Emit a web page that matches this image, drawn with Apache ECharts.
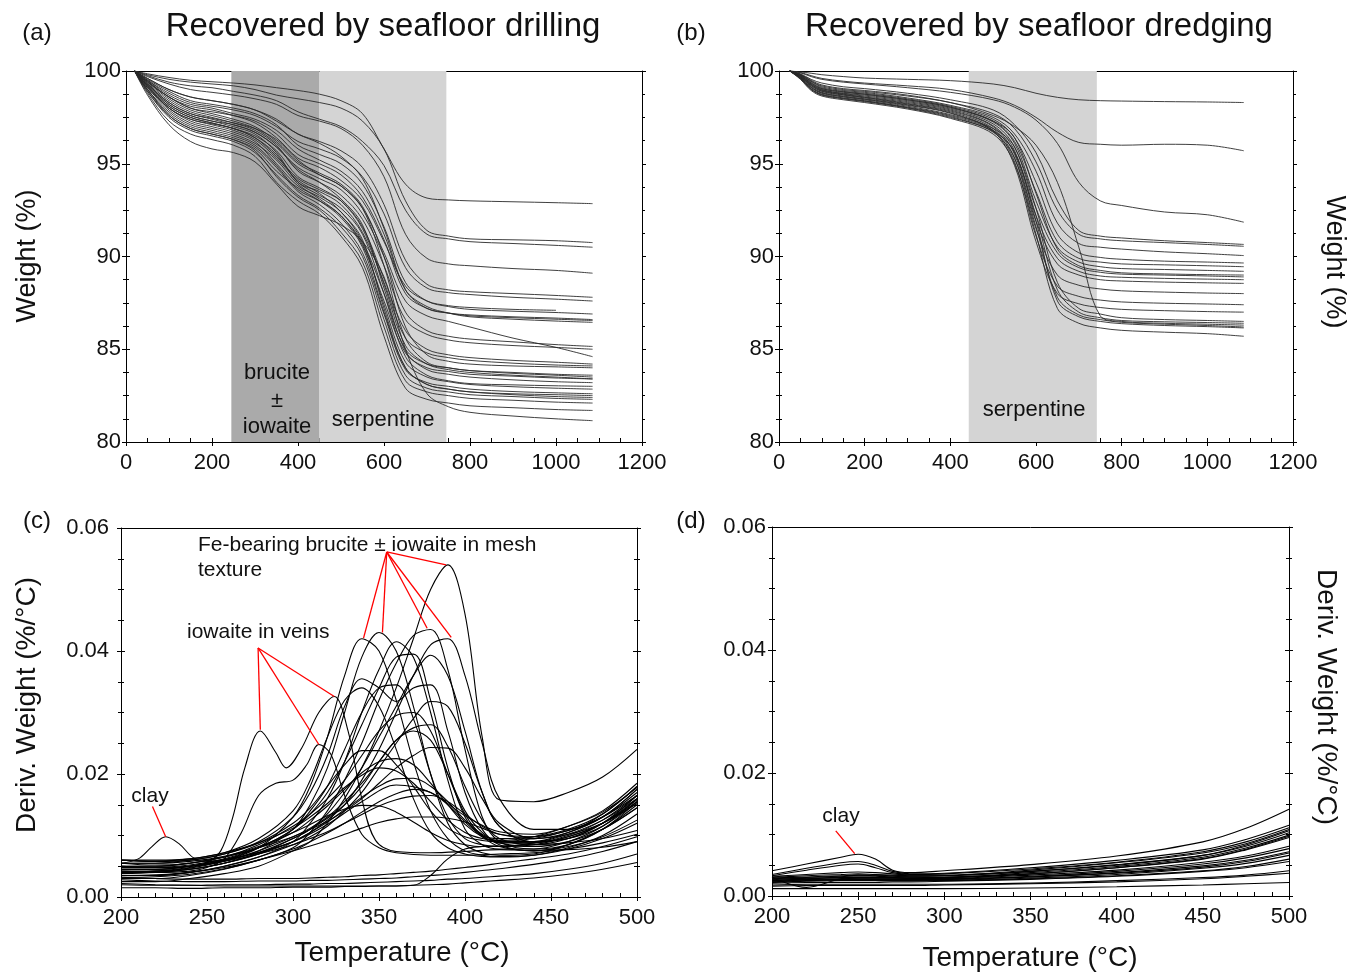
<!DOCTYPE html>
<html><head><meta charset="utf-8">
<script src="https://cdn.jsdelivr.net/npm/echarts@6/dist/echarts.min.js"></script>
<style>html,body{margin:0;padding:0;background:#fff}#chart{width:1357px;height:973px}</style>
</head><body><div id="chart"></div>
<script>
const FONT = '"Liberation Sans", Arial, sans-serif';

// ---------- (a) TGA, drilled samples ----------
const drillTemp = [20,50,100,150,200,250,300,350,400,450,500,550,600,650,700,750,800,900,1000,1085];
const drillWeight = [
 [100,99.85,99.65,99.5,99.42,99.35,99.25,99.1,98.95,98.75,98.4,97.7,95.8,93.9,93.15,93.05,93.0,92.95,92.9,92.85],
 [100,99.8,99.55,99.4,99.3,99.2,99.0,98.7,98.5,98.3,98.0,97.3,95.8,93.0,91.4,91.1,90.95,90.9,90.85,90.75],
 [100,99.75,99.4,99.2,99.1,98.9,98.7,98.4,97.8,97.4,97.0,96.2,94.9,92.5,91.2,90.95,90.8,90.7,90.6,90.5],
 [100,99.7,99.3,99.0,98.85,98.7,98.5,98.2,97.6,97.3,96.9,96.0,94.3,91.2,89.9,89.6,89.5,89.35,89.25,89.1],
 [100,99.6,99.0,98.6,98.4,98.2,97.9,97.4,96.6,96.2,95.7,94.8,92.8,89.8,88.5,88.2,88.1,88.0,87.9,87.8],
 [100,99.5,98.8,98.3,98.1,97.9,97.6,97.0,96.2,95.8,95.3,94.3,92.3,89.4,88.3,88.05,87.95,87.8,87.7,87.6],
 [100,99.55,98.9,98.4,98.2,98.0,97.7,97.1,96.0,95.5,95.0,93.9,91.6,88.6,87.6,87.3,87.15,87.05,86.98,86.9],
 [100,99.4,98.6,98.0,97.8,97.6,97.3,96.6,95.5,95.0,94.4,93.2,90.9,88.0,87.2,86.95,86.8,86.7,86.62,86.55],
 [100,99.5,98.7,98.2,98.0,97.7,97.4,96.8,95.8,95.2,94.6,93.5,91.2,88.2,87.3,86.95,86.75,86.62,86.52,86.45],
 [100,99.45,98.6,98.1,97.9,97.6,97.2,96.4,95.3,94.8,94.1,93.0,90.8,88.4,87.6,87.35,87.25,87.15,87.1,null],
 [100,99.4,98.5,97.9,97.6,97.3,96.9,96.1,95.0,94.4,93.8,92.6,90.2,87.6,86.8,86.5,86.2,85.6,85.1,84.6],
 [100,99.3,98.3,97.7,97.4,97.1,96.7,95.9,94.8,94.2,93.6,92.3,90.0,87.0,86.0,85.7,85.55,85.4,85.25,85.15],
 [100,99.35,98.4,97.8,97.5,97.2,96.8,96.0,94.6,94.0,93.3,92.0,89.5,86.6,85.8,85.5,85.35,85.2,85.1,85.0],
 [100,99.2,98.1,97.5,97.2,96.9,96.4,95.4,94.2,93.6,93.0,91.6,88.8,86.0,85.0,84.7,84.55,84.4,84.3,84.2],
 [100,99.3,98.2,97.6,97.3,97.0,96.6,95.6,94.0,93.5,92.8,91.3,88.6,85.6,84.8,84.55,84.4,84.25,84.15,84.1],
 [100,99.1,98.0,97.3,97.0,96.7,96.2,95.0,93.8,93.2,92.4,90.8,88.0,85.0,84.2,84.0,83.85,83.7,83.6,83.5],
 [100,99.2,98.1,97.5,97.2,96.9,96.5,95.7,94.3,93.7,93.0,91.5,88.5,85.2,84.2,83.9,83.75,83.6,83.5,83.4],
 [100,99.0,97.8,97.1,96.8,96.5,96.0,94.9,93.6,93.0,92.2,90.6,87.6,84.8,84.0,83.8,83.65,83.55,83.45,83.4],
 [100,99.25,98.2,97.6,97.3,97.1,96.7,95.9,94.7,94.0,93.1,91.7,88.3,84.9,83.9,83.65,83.5,83.35,83.25,83.2],
 [100,99.1,97.9,97.2,96.9,96.6,96.1,95.2,93.9,93.1,92.2,90.7,87.4,84.3,83.5,83.25,83.1,82.98,82.9,82.85],
 [100,99.0,97.7,97.0,96.7,96.4,95.9,94.8,93.5,92.8,91.8,90.2,86.9,83.9,83.2,83.0,82.85,82.72,82.65,82.6],
 [100,99.15,98.0,97.4,97.1,96.8,96.3,95.3,94.1,93.4,92.4,90.9,87.2,84.0,83.1,82.85,82.7,82.55,82.45,82.4],
 [100,98.9,97.5,96.8,96.5,96.2,95.6,94.4,93.3,92.6,91.6,90.0,86.6,83.6,82.9,82.7,82.55,82.45,82.35,82.3],
 [100,98.9,97.6,96.9,96.6,96.3,95.7,94.3,93.2,92.5,91.3,89.7,86.2,83.3,82.7,82.5,82.35,82.25,82.15,82.1],
 [100,98.8,97.3,96.6,96.3,96.0,95.4,94.0,93.0,92.3,91.1,89.4,85.7,82.9,82.3,82.1,81.95,81.85,81.75,81.7],
 [100,98.7,97.1,96.2,95.8,95.6,95.1,93.9,92.7,92.2,91.7,90.8,88.9,85.0,82.6,81.9,81.6,81.4,81.25,81.15],
 [100,99.3,98.3,97.7,97.45,97.2,96.9,96.3,95.2,94.4,93.8,92.6,89.5,85.6,84.3,84.0,83.85,83.75,83.65,83.6],
 [100,99.45,98.6,98.0,97.7,97.4,97.0,96.2,95.1,94.5,93.9,92.7,90.0,86.2,84.7,84.35,84.2,84.1,84.05,84.0],
 [100,99.0,97.6,96.9,96.6,96.3,95.8,94.6,93.7,93.0,92.1,90.5,87.0,84.0,83.1,82.85,82.7,82.6,82.55,82.5],
 [100,99.2,98.0,97.4,97.15,96.9,96.4,95.5,94.0,93.3,92.6,91.2,88.0,84.6,83.6,83.3,83.15,83.08,83.03,83.0],
 [100,99.6,99.0,98.6,98.4,98.2,97.9,97.3,96.6,96.1,95.4,94.2,91.5,88.2,87.2,86.95,86.85,86.75,86.68,86.6]
];

// ---------- (b) TGA, dredged samples ----------
const dredgeTemp = [25,50,75,100,150,200,300,400,500,550,600,650,700,750,800,900,1000,1085];
const dredgeWeight = [
 [100,99.95,99.88,99.8,99.7,99.62,99.55,99.48,99.3,99.1,98.8,98.58,98.45,98.4,98.38,98.35,98.33,98.3],
 [100,99.92,99.75,99.6,99.45,99.35,99.2,99.0,98.55,98.15,97.5,96.7,96.15,96.05,96.0,96.05,96.0,95.7],
 [100,99.9,99.7,99.55,99.4,99.3,99.1,98.85,98.45,98.05,97.35,96.1,94.0,93.0,92.75,92.4,92.25,91.85],
 [100,99.85,99.55,99.35,99.15,99.05,98.8,98.45,97.9,97.1,95.6,93.0,91.4,91.1,91.0,90.85,90.75,90.65],
 [100,99.82,99.5,99.25,99.05,98.95,98.7,98.3,97.7,96.9,95.1,92.5,91.2,90.95,90.85,90.75,90.65,90.55],
 [100,99.8,99.45,99.15,98.95,98.85,98.55,98.15,97.5,96.6,94.6,91.8,90.7,90.5,90.4,90.25,90.15,90.05],
 [100,99.78,99.4,99.1,98.9,98.8,98.5,98.1,97.4,96.4,94.0,91.2,90.2,89.95,89.85,89.75,89.7,89.65],
 [100,99.75,99.35,99.05,98.85,98.75,98.45,98.05,97.3,96.2,93.5,90.8,89.9,89.7,89.6,89.55,89.5,89.45],
 [100,99.75,99.3,99.0,98.8,98.7,98.4,98.0,97.25,96.1,93.0,90.5,89.7,89.45,89.35,89.3,89.25,89.2],
 [100,99.72,99.28,98.98,98.78,98.65,98.35,97.95,97.15,95.9,92.6,90.2,89.4,89.15,89.05,89.0,88.95,88.9],
 [100,99.7,99.25,98.95,98.75,98.6,98.3,97.9,97.05,95.7,92.2,89.9,89.2,88.95,88.88,88.82,88.78,88.75],
 [100,99.7,99.22,98.92,98.72,98.58,98.25,97.85,97.0,95.5,91.9,89.6,89.0,88.75,88.68,88.62,88.58,88.55],
 [100,99.68,99.2,98.9,98.7,98.55,98.22,97.8,96.9,95.3,91.5,89.0,88.45,88.25,88.15,88.08,88.03,88.0],
 [100,99.65,99.15,98.85,98.65,98.5,98.18,97.75,96.8,95.1,91.1,88.4,87.85,87.65,87.55,87.48,87.44,87.4],
 [100,99.65,99.12,98.82,98.62,98.48,98.15,97.72,96.75,94.9,90.8,88.0,87.45,87.25,87.15,87.08,87.03,87.0],
 [100,99.62,99.1,98.8,98.6,98.45,98.1,97.65,96.9,95.9,92.6,88.6,87.2,86.9,86.7,86.6,86.55,86.5],
 [100,99.6,99.05,98.75,98.55,98.4,98.05,97.6,96.8,95.6,92.2,88.2,87.0,86.7,86.55,86.48,86.44,86.4],
 [100,99.6,99.02,98.72,98.52,98.38,98.02,97.55,96.7,95.3,91.6,87.8,86.85,86.6,86.45,86.35,86.28,86.2],
 [100,99.58,99.0,98.7,98.5,98.35,98.0,97.5,96.75,95.6,91.9,87.6,86.75,86.5,86.38,86.28,86.22,86.15],
 [100,99.55,98.95,98.65,98.45,98.3,97.95,97.45,96.6,95.0,91.2,87.2,86.4,86.15,86.02,85.92,85.84,85.7],
 [100,99.8,99.45,99.2,99.0,98.9,98.65,98.3,97.6,97.0,96.0,94.0,90.5,86.8,86.5,86.4,86.35,86.3],
 [100,99.76,99.35,99.05,98.88,98.75,98.45,98.05,97.3,96.4,93.4,90.4,89.5,89.25,89.12,89.06,89.02,89.0]
];

// ---------- (c) DTG, drilled samples ----------
const drillDerivTemp = [200,220,240,260,280,300,310,320,330,340,350,360,370,380,390,400,410,420,440,460,480,500];
const drillDeriv = [
 [0.005,0.0048,0.005,0.006,0.008,0.013,0.018,0.026,0.036,0.042,0.040,0.032,0.022,0.014,0.0095,0.0075,0.0068,0.0066,0.0068,0.0078,0.0095,0.012],
 [0.004,0.0042,0.0048,0.0058,0.0075,0.011,0.015,0.021,0.030,0.039,0.043,0.040,0.031,0.020,0.012,0.0085,0.0072,0.0068,0.007,0.0085,0.011,0.0145],
 [0.0035,0.0036,0.004,0.005,0.0065,0.009,0.012,0.016,0.022,0.030,0.037,0.0415,0.039,0.030,0.019,0.011,0.0085,0.0078,0.0078,0.009,0.0115,0.016],
 [0.003,0.003,0.0035,0.0045,0.006,0.008,0.0105,0.014,0.019,0.025,0.032,0.038,0.0425,0.0435,0.037,0.024,0.013,0.009,0.0078,0.0085,0.011,0.0155],
 [0.0025,0.0025,0.003,0.0038,0.005,0.0075,0.009,0.012,0.016,0.021,0.027,0.034,0.042,0.050,0.054,0.046,0.026,0.0158,0.0155,0.017,0.0195,0.024],
 [0.0045,0.0045,0.005,0.006,0.0072,0.009,0.0105,0.0125,0.015,0.019,0.024,0.030,0.036,0.041,0.042,0.036,0.025,0.016,0.011,0.011,0.0135,0.018],
 [0.0055,0.0052,0.0055,0.0065,0.008,0.011,0.0135,0.017,0.022,0.028,0.034,0.039,0.0395,0.032,0.021,0.013,0.010,0.0095,0.0098,0.011,0.0135,0.018],
 [0.004,0.0042,0.0045,0.0055,0.007,0.0095,0.011,0.0135,0.017,0.021,0.026,0.031,0.036,0.0393,0.036,0.027,0.017,0.0115,0.009,0.0095,0.012,0.0165],
 [0.006,0.0058,0.006,0.007,0.009,0.013,0.017,0.023,0.031,0.0355,0.034,0.0318,0.034,0.0345,0.027,0.017,0.011,0.0085,0.0075,0.0085,0.011,0.015],
 [0.0045,0.0045,0.005,0.006,0.008,0.011,0.014,0.018,0.024,0.030,0.034,0.0345,0.029,0.020,0.013,0.0095,0.0085,0.0082,0.0085,0.0098,0.012,0.0155],
 [0.006,0.0058,0.0062,0.0072,0.0095,0.014,0.019,0.026,0.032,0.034,0.031,0.024,0.016,0.0105,0.008,0.007,0.0066,0.0065,0.0068,0.008,0.010,0.0135],
 [0.0035,0.0035,0.004,0.005,0.0065,0.0085,0.0098,0.0115,0.014,0.017,0.021,0.025,0.029,0.0318,0.031,0.025,0.017,0.0115,0.009,0.0095,0.0115,0.0155],
 [0.005,0.005,0.0055,0.0065,0.0085,0.0115,0.0135,0.016,0.019,0.023,0.027,0.0295,0.030,0.027,0.020,0.0135,0.010,0.009,0.009,0.0105,0.013,0.0175],
 [0.0042,0.0042,0.0047,0.0058,0.0075,0.0098,0.0112,0.013,0.0155,0.0185,0.022,0.0255,0.0275,0.028,0.0245,0.018,0.0125,0.0095,0.0085,0.0095,0.012,0.016],
 [0.0038,0.004,0.0045,0.0055,0.0072,0.0095,0.011,0.0128,0.015,0.018,0.022,0.0255,0.027,0.0255,0.020,0.014,0.0105,0.0088,0.0082,0.009,0.011,0.0145],
 [0.005,0.005,0.0055,0.0065,0.008,0.0098,0.011,0.0123,0.014,0.016,0.0185,0.021,0.023,0.0243,0.0242,0.021,0.016,0.012,0.0095,0.0105,0.013,0.0175],
 [0.0055,0.0055,0.006,0.007,0.0088,0.012,0.0145,0.018,0.0215,0.0238,0.0238,0.0215,0.018,0.014,0.0112,0.0098,0.0092,0.009,0.0095,0.0108,0.013,0.0165],
 [0.0048,0.0048,0.0052,0.0062,0.008,0.0105,0.0125,0.0148,0.0175,0.0202,0.022,0.0225,0.0215,0.0185,0.015,0.0118,0.0098,0.0088,0.0088,0.01,0.0125,0.0165],
 [0.006,0.006,0.0062,0.0072,0.0088,0.0112,0.013,0.0152,0.0178,0.0198,0.021,0.0205,0.0185,0.0155,0.0125,0.0105,0.0095,0.0092,0.0098,0.0115,0.014,0.0185],
 [0.004,0.004,0.0045,0.0055,0.007,0.009,0.0105,0.0122,0.0142,0.0162,0.018,0.0192,0.0193,0.018,0.0155,0.0125,0.0102,0.009,0.0088,0.0098,0.012,0.0158],
 [0.0032,0.0033,0.0037,0.0046,0.006,0.0078,0.009,0.0104,0.012,0.0138,0.0155,0.0168,0.0175,0.017,0.015,0.0122,0.0098,0.0082,0.0075,0.0082,0.0098,0.0125],
 [0.0045,0.0045,0.005,0.0058,0.007,0.0085,0.0095,0.0106,0.012,0.0134,0.0148,0.0158,0.0164,0.0165,0.0155,0.0135,0.0115,0.0102,0.0098,0.0108,0.013,0.017],
 [0.0055,0.0055,0.0058,0.0066,0.0082,0.0105,0.0118,0.0132,0.0143,0.0149,0.0148,0.0138,0.0122,0.0105,0.0092,0.0085,0.0082,0.0082,0.0088,0.0102,0.0125,0.016],
 [0.0035,0.0035,0.004,0.0048,0.006,0.0075,0.0083,0.0092,0.0102,0.0112,0.0121,0.0127,0.013,0.013,0.0128,0.0122,0.0112,0.0102,0.0095,0.0102,0.012,0.0152],
 [0.002,0.0019,0.0019,0.002,0.002,0.0021,0.0021,0.0022,0.0022,0.0023,0.0024,0.0025,0.0026,0.0027,0.0029,0.003,0.0032,0.0034,0.0038,0.0045,0.0055,0.007],
 [0.0015,0.0015,0.0014,0.0015,0.0015,0.0016,0.0016,0.0016,0.0017,0.0017,0.0018,0.0018,0.0019,0.002,0.0021,0.0023,0.0025,0.0027,0.0031,0.0037,0.0045,0.0056],
 [0.0028,0.0026,0.0025,0.0025,0.0026,0.0026,0.0027,0.0027,0.0028,0.0029,0.003,0.0031,0.0033,0.0035,0.0037,0.004,0.0043,0.0046,0.0053,0.0062,0.0074,0.009],
 [0.0032,0.003,0.0029,0.0029,0.003,0.003,0.0031,0.0032,0.0033,0.0035,0.0036,0.0038,0.004,0.0042,0.0045,0.0048,0.0051,0.0055,0.0062,0.007,0.0082,0.0098],
 [0.0022,0.002,0.0019,0.0018,0.0018,0.0018,0.0018,0.0018,0.0018,0.0018,0.0018,0.0018,0.0019,0.0035,0.0062,0.0078,0.0082,0.0083,0.0085,0.0088,0.0095,0.0108]
];
const clayTemp = [200,210,218,226,234,242,250,270,300,320,340,360,380,400,420,440,460,480,500];
const clayDeriv = [0.0055,0.0062,0.0082,0.0098,0.0086,0.0064,0.0058,0.0066,0.009,0.0118,0.0155,0.0182,0.017,0.0132,0.0106,0.0102,0.0115,0.0138,0.0178];
const vein1Temp = [200,220,240,250,258,265,272,281,290,296,305,315,324,332,340,348,360,380,400,420,440,460,480,500];
const vein1Deriv = [0.005,0.0048,0.005,0.0056,0.0075,0.013,0.021,0.027,0.0235,0.021,0.0242,0.030,0.0326,0.027,0.016,0.0092,0.0074,0.0072,0.0074,0.0077,0.0076,0.0077,0.0081,0.009];
const vein2Temp = [200,220,240,250,260,270,280,290,300,308,315,322,330,340,350,360,380,400,420,440,460,480,500];
const vein2Deriv = [0.0042,0.004,0.0042,0.0048,0.0062,0.0105,0.0165,0.0185,0.019,0.0215,0.0248,0.0232,0.0165,0.0102,0.008,0.0072,0.0068,0.0068,0.007,0.0072,0.0078,0.0088,0.0102];

// ---------- (d) DTG, dredged samples ----------
const dredgeDerivTemp = [200,220,240,250,260,270,280,300,350,400,450,475,500];
const dredgeDeriv = [
 [0.0041,0.0052,0.0063,0.0068,0.006,0.0042,0.0038,0.0041,0.0051,0.0065,0.0088,0.011,0.0141],
 [0.0035,0.0045,0.0054,0.0056,0.005,0.004,0.0036,0.0037,0.0046,0.0058,0.0075,0.0092,0.0115],
 [0.0033,0.0042,0.005,0.0052,0.0046,0.0038,0.0035,0.0036,0.0044,0.0055,0.0072,0.0088,0.0111],
 [0.0032,0.0035,0.0038,0.0039,0.0038,0.0036,0.0034,0.0034,0.0042,0.0054,0.007,0.0085,0.0108],
 [0.003,0.0033,0.0035,0.0036,0.0035,0.0034,0.0033,0.0033,0.004,0.0051,0.0066,0.0081,0.0103],
 [0.0028,0.003,0.0032,0.0032,0.0032,0.0031,0.0031,0.0031,0.0038,0.0048,0.0063,0.0078,0.0099],
 [0.0033,0.0028,0.0031,0.0034,0.0033,0.0032,0.0031,0.003,0.0036,0.0046,0.006,0.0075,0.0095],
 [0.0027,0.0029,0.003,0.003,0.003,0.003,0.0029,0.0029,0.0034,0.0042,0.0055,0.0065,0.0081],
 [0.0025,0.0027,0.0028,0.0028,0.0028,0.0028,0.0028,0.0028,0.0032,0.004,0.0052,0.0062,0.0077],
 [0.0024,0.0026,0.0027,0.0027,0.0027,0.0027,0.0027,0.0027,0.0031,0.0038,0.0049,0.0058,0.0072],
 [0.0023,0.0025,0.0026,0.0026,0.0026,0.0026,0.0026,0.0026,0.0029,0.0035,0.0045,0.0053,0.0066],
 [0.0022,0.0024,0.0025,0.0025,0.0025,0.0025,0.0025,0.0025,0.0028,0.0033,0.0041,0.0048,0.006],
 [0.003,0.0014,0.0028,0.003,0.003,0.003,0.0029,0.0028,0.0031,0.0037,0.0047,0.0056,0.007],
 [0.0018,0.0019,0.0019,0.0019,0.0019,0.0019,0.0019,0.0019,0.0021,0.0025,0.003,0.0034,0.0041],
 [0.0016,0.0017,0.0017,0.0017,0.0017,0.0017,0.0017,0.0018,0.002,0.0023,0.0028,0.0032,0.0037],
 [0.0012,0.0012,0.0012,0.0012,0.0012,0.0012,0.0012,0.0012,0.0013,0.0015,0.0018,0.002,0.0022],
 [0.0026,0.0027,0.0028,0.0029,0.0029,0.0029,0.0029,0.003,0.0036,0.0046,0.0061,0.0076,0.0097],
 [0.0029,0.0031,0.0033,0.0034,0.0034,0.0033,0.0032,0.0033,0.004,0.005,0.0066,0.0083,0.0106],
 [0.0021,0.0022,0.0022,0.0022,0.0022,0.0023,0.0023,0.0024,0.0027,0.0032,0.004,0.0046,0.0056]
];

// shaded temperature ranges and annotation anchors (data units)
const bruciteRange = [245, 450];
const serpRangeDrill = [450, 745];
const serpRangeDredge = [443, 742];
const meshLabelAnchor = [354.5, 0.0561];
const meshPeaks = [[341,0.0421],[352,0.043],[378,0.0437],[392,0.0422],[389,0.054]];
const veinLabelAnchor = [279.7, 0.0405];
const veinPeaks = [[281,0.0272],[315,0.0248],[324,0.0326]];
const clayDrillLine = [[218.3,0.0147],[226,0.0098]];
const clayDredgeLine = [[237,0.0106],[248,0.0069]];

// ---------- build ----------
const BLACK = '#000';
function axesFor(gi, xr, yr) {
  const line = {show:true, onZero:false, lineStyle:{color:BLACK, width:1}};
  const tk = (inside, len) => ({show:true, inside, length:len, lineStyle:{color:BLACK, width:1}});
  const mt = (split, len) => ({show:true, splitNumber:split, length:len, lineStyle:{color:BLACK, width:1}});
  const bx = {type:'value', gridIndex:gi, min:xr.min, max:xr.max, interval:xr.interval, splitLine:{show:false}};
  const by = {type:'value', gridIndex:gi, min:yr.min, max:yr.max, interval:yr.interval, splitLine:{show:false}};
  const noLab = {show:false};
  const xs = [
    Object.assign({}, bx, {position:'bottom', axisLine:line, axisTick:tk(false,4), minorTick:{show:false},
      axisLabel:{show:true, fontSize:22, color:'#111', margin:xr.margin, fontFamily:FONT, formatter: xr.fmt}}),
    Object.assign({}, bx, {position:'bottom', axisLine:{show:false}, axisTick:tk(true,4), minorTick:mt(xr.minor,4), axisLabel:noLab}),
    Object.assign({}, bx, {position:'top', axisLine:line, axisTick:{show:false}, axisLabel:noLab})
  ];
  const ys = [
    Object.assign({}, by, {position:'left', axisLine:line, axisTick:tk(false,4), minorTick:mt(yr.minor,3),
      axisLabel:{show:true, fontSize:22, color:'#111', margin:yr.margin, fontFamily:FONT, formatter: yr.fmt}}),
    Object.assign({}, by, {position:'left', axisLine:{show:false}, axisTick:tk(true,4), minorTick:mt(yr.minor,3), axisLabel:noLab}),
    Object.assign({}, by, {position:'right', axisLine:line, axisTick:tk(false,4), minorTick:mt(yr.minor,3), axisLabel:noLab}),
    Object.assign({}, by, {position:'right', axisLine:{show:false}, axisTick:tk(true,4), minorTick:mt(yr.minor,3), axisLabel:noLab})
  ];
  return {xs, ys};
}
const tgaX = {min:0, max:1200, interval:200, minor:4, margin:10, fmt: v => String(v)};
const tgaY = {min:80, max:100, interval:5, minor:4, margin:5, fmt: v => String(v)};
const dtgX = {min:200, max:500, interval:50, minor:5, margin:10, fmt: v => String(v)};
const dtgYc = {min:0, max:0.06, interval:0.02, minor:4, margin:12, fmt: v => v.toFixed(2)};
const dtgYd = {min:0, max:0.06, interval:0.02, minor:4, margin:6, fmt: v => v.toFixed(2)};
const A = [axesFor(0,tgaX,tgaY), axesFor(1,tgaX,tgaY), axesFor(2,dtgX,dtgYc), axesFor(3,dtgX,dtgYd)];
const xAxis = [].concat(...A.map(a => a.xs));
const yAxis = [].concat(...A.map(a => a.ys));

function curve(gi, xs, ys, color, width) {
  return {type:'line', xAxisIndex:3*gi, yAxisIndex:4*gi, data: xs.map((x,i) => [x, ys[i]]),
    symbol:'none', showSymbol:false, smooth:0.35, connectNulls:false,
    lineStyle:{color, width}, silent:true, z:3, animation:false};
}
const series = [];
series.push({type:'line', xAxisIndex:0, yAxisIndex:0, data:[[600,90]], symbol:'none', z:1, silent:true,
  markArea:{silent:true, data:[
    [{xAxis:bruciteRange[0], itemStyle:{color:'#aaaaaa'}},{xAxis:bruciteRange[1]}],
    [{xAxis:serpRangeDrill[0], itemStyle:{color:'#d4d4d4'}},{xAxis:serpRangeDrill[1]}]
  ]}});
series.push({type:'line', xAxisIndex:3, yAxisIndex:4, data:[[600,90]], symbol:'none', z:1, silent:true,
  markArea:{silent:true, data:[
    [{xAxis:serpRangeDredge[0], itemStyle:{color:'#d4d4d4'}},{xAxis:serpRangeDredge[1]}]
  ]}});
drillWeight.forEach(w => series.push(curve(0, drillTemp, w, '#2a2a2a', 0.9)));
dredgeWeight.forEach(w => series.push(curve(1, dredgeTemp, w, '#2a2a2a', 0.9)));
drillDeriv.forEach(d => series.push(curve(2, drillDerivTemp, d, BLACK, 1.1)));
series.push(curve(2, clayTemp, clayDeriv, BLACK, 1.1));
series.push(curve(2, vein1Temp, vein1Deriv, BLACK, 1.1));
series.push(curve(2, vein2Temp, vein2Deriv, BLACK, 1.1));
dredgeDeriv.forEach(d => series.push(curve(3, dredgeDerivTemp, d, BLACK, 1.1)));

const seg = (p, q) => [{coord:p},{coord:q}];
const redStyle = {color:'#ff0000', width:1.3, type:'solid'};
series.push({type:'line', xAxisIndex:6, yAxisIndex:8, data:[[450,0.03]], symbol:'none', z:6, silent:true,
  markLine:{silent:true, symbol:['none','none'], label:{show:false}, lineStyle:redStyle, animation:false,
    data: meshPeaks.map(p => seg(meshLabelAnchor, p))
      .concat(veinPeaks.map(p => seg(veinLabelAnchor, p)))
      .concat([seg(clayDrillLine[0], clayDrillLine[1])])}});
series.push({type:'line', xAxisIndex:9, yAxisIndex:12, data:[[450,0.03]], symbol:'none', z:6, silent:true,
  markLine:{silent:true, symbol:['none','none'], label:{show:false}, lineStyle:redStyle, animation:false,
    data:[seg(clayDredgeLine[0], clayDredgeLine[1])]}});

function txt(x, y, text, size) {
  return {type:'text', x, y, silent:true, z:100,
    style:{text, fontSize:size, fontFamily:FONT, fill:'#111', textAlign:'center', textVerticalAlign:'middle'}};
}
function rtxt(x, y, text, size, rot) {
  return {type:'text', x, y, rotation:rot, silent:true, z:100,
    style:{text, fontSize:size, fontFamily:FONT, fill:'#111', textAlign:'center', textVerticalAlign:'middle'}};
}
function ltxt(x, y, text, size) {
  return {type:'text', x, y, silent:true, z:100,
    style:{text, fontSize:size, fontFamily:FONT, fill:'#111', textAlign:'left', textVerticalAlign:'middle'}};
}
const graphic = [
  txt(37, 33, '(a)', 24), txt(383, 27, 'Recovered by seafloor drilling', 33),
  txt(691, 33, '(b)', 24), txt(1039, 27, 'Recovered by seafloor dredging', 33),
  txt(37, 521, '(c)', 24), txt(691, 521, '(d)', 24),
  rtxt(28, 256, 'Weight (%)', 27, Math.PI/2),
  rtxt(1334, 262, 'Weight (%)', 27, -Math.PI/2),
  rtxt(27, 705, 'Deriv. Weight (%/°C)', 28, Math.PI/2),
  rtxt(1326, 697, 'Deriv. Weight (%/°C)', 28, -Math.PI/2),
  txt(402, 953, 'Temperature (°C)', 28), txt(1030, 958, 'Temperature (°C)', 28),
  txt(277, 373, 'brucite', 22), txt(277, 401, '±', 22), txt(277, 427, 'iowaite', 22),
  txt(383, 420, 'serpentine', 22), txt(1034, 410, 'serpentine', 22),
  ltxt(198, 545, 'Fe-bearing brucite ± iowaite in mesh', 21), ltxt(198, 570, 'texture', 21),
  ltxt(187, 632, 'iowaite in veins', 21), txt(150, 796, 'clay', 21), txt(841, 816, 'clay', 21)
];

const option = {
  animation:false,
  backgroundColor:'#fff',
  grid:[
    {left:126, top:71, width:516, height:371},
    {left:779, top:71, width:514, height:371},
    {left:121, top:528, width:516, height:369},
    {left:772, top:527, width:517, height:369}
  ],
  xAxis, yAxis, series, graphic
};
const chart = echarts.init(document.getElementById('chart'), null, {renderer:'canvas'});
chart.setOption(option);
</script></body></html>
